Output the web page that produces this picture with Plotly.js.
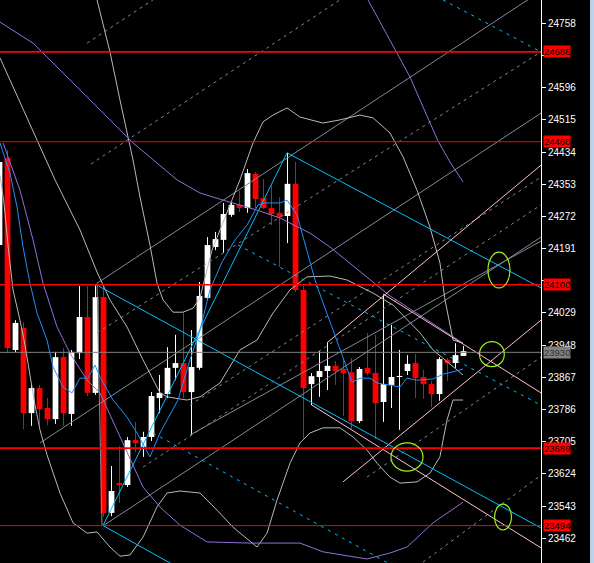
<!DOCTYPE html>
<html>
<head>
<meta charset="utf-8">
<script src="https://cdn.plot.ly/plotly-3.0.1.min.js"></script>
<style>
html,body{margin:0;padding:0;background:#000;}
#chart{width:594px;height:563px;}
</style>
</head>
<body>
<div id="chart"></div>
<script>
// ---- candles (bar index 0..58) ----
const barIdx = [0,1,2,3,4,5,6,7,8,9,10,11,12,13,14,15,16,17,18,19,20,21,22,23,24,25,26,27,28,29,30,31,32,33,34,35,36,37,38,39,40,41,42,43,44,45,46,47,48,49,50,51,52,53,54,55,56,57,58];
const opens  = [24200,24419,23936,23991,23777,23840,23790,23762,23918,23775,23928,24019,23828,24069,23526,23601,23596,23709,23692,23717,23815,23825,23891,23903,23830,23891,24067,24195,24213,24276,24301,24293,24379,24318,24293,24281,24273,24354,24087,23850,23868,23883,23896,23888,23880,23757,23891,23878,23805,23848,23868,23883,23903,23868,23850,23825,23911,23903,23921];
const highs  = [24430,24439,24011,24006,23850,23848,23815,23931,23941,23936,24097,24097,24099,24099,23644,23694,23717,23755,23730,23830,23873,23943,23974,24031,23986,24107,24220,24233,24306,24308,24336,24391,24384,24366,24349,24321,24432,24409,24097,23878,23933,23956,23908,23916,23916,23893,23979,23974,24074,23999,23936,23923,23926,23886,23858,23918,23916,23953,23946];
const lows   = [24190,23928,23931,23737,23745,23747,23747,23750,23745,23745,23913,23820,23823,23516,23518,23551,23591,23679,23667,23707,23777,23815,23860,23815,23722,23886,24062,24187,24180,24271,24283,24281,24293,24291,24250,24145,24205,24082,23714,23797,23818,23835,23848,23770,23737,23752,23873,23712,23755,23790,23735,23873,23815,23813,23792,23808,23858,23891,23921];
const closes = [24409,23941,24004,23777,23840,23787,23762,23918,23777,23931,24019,23828,24069,23526,23581,23596,23709,23702,23717,23820,23828,23891,23903,23830,23893,24072,24200,24215,24278,24301,24293,24381,24316,24293,24278,24271,24354,24087,23840,23870,23883,23896,23883,23878,23757,23888,23878,23802,23850,23868,23870,23901,23865,23850,23825,23913,23903,23923,23933];

// ---- indicator curves (x in bar units, y in price) ----
const maFastX = [0.06,1.31,2.19,2.94,3.81,4.69,5.94,6.69,7.94,9.06,10.06,11.06,11.94,12.56,14.19,15.94,17.19,18.81,20.06,21.69,22.31,23.81,25.06,26.31,27.81,29.44,30.94,32.31,33.19,35.06,35.94,37.19,38.19,39.44,40.31,44.06,45.06,46.31,47.19,48.81,50.06,50.94,52.19,54.19,55.44,56.69,57.94];
const maFastY = [24457,24381,24296,24195,24104,24029,23961,23893,23843,23828,23865,23865,23898,23868,23810,23767,23727,23667,23727,23785,23810,23911,23986,24087,24157,24213,24250,24301,24306,24306,24313,24276,24200,24112,24062,23855,23865,23865,23853,23848,23843,23865,23860,23863,23875,23881,23888];

const maSlowX = [0.06,4.19,8.44,12.56,16.69,22.19,25.06,27.94,32.19,35.06,38.81,41.31,46.31,48.81,57.94];
const maSlowY = [24761,24708,24623,24540,24457,24364,24331,24313,24288,24268,24230,24195,24112,24072,23953];

const envLowX = [0.44,2.56,4.19,5.44,7.19,8.81,10.94,12.56,17.94,20.06,22.56,25.94,31.31,37.56,40.44,45.94,48.81,50.94,54.19,57.94];
const envLowY = [24457,24338,24213,24104,23994,23928,23860,23828,23591,23541,23495,23453,23450,23450,23428,23410,23425,23440,23501,23553];

const envUpX = [46.06,48.81,51.31,52.56,54.81,56.31,57.94];
const envUpY = [24817,24716,24623,24565,24462,24409,24359];

const bbUpX = [12.19,13.19,13.81,15.06,16.06,16.69,17.56,18.81,19.69,20.44,21.69,22.94,24.19,25.06,26.56,28.44,30.06,31.69,32.94,34.19,35.94,37.56,40.44,42.56,45.06,46.69,48.81,50.44,52.19,53.81,55.06,55.69,56.69,57.94];
const bbUpY = [24817,24736,24686,24565,24472,24414,24321,24200,24104,24062,24031,24031,24041,24067,24187,24281,24364,24457,24510,24527,24545,24522,24507,24515,24527,24520,24482,24422,24338,24245,24155,24062,23961,23953];

const bbMidX = [0.06,4.19,6.94,10.06,12.19,13.81,15.94,17.94,20.06,20.94,23.44,25.06,27.56,30.06,32.19,34.19,36.31,38.44,41.31,43.44,46.69,49.19,52.56,54.19,55.94,57.94];
const bbMidY = [24671,24489,24364,24238,24132,24062,23994,23911,23828,23818,23810,23818,23853,23936,23961,24029,24087,24120,24122,24112,24079,24049,23979,23936,23906,23873];

const bbLowX = [0.06,0.56,1.06,1.69,2.56,3.19,3.81,4.44,5.06,5.94,7.56,9.19,10.94,12.19,13.81,15.06,16.31,17.94,19.69,20.94,22.56,25.06,27.19,29.19,32.19,33.44,34.69,36.31,37.56,38.81,40.44,42.56,44.19,45.94,47.19,48.81,50.06,52.19,53.81,55.06,55.44,55.94,56.69,57.94];
const bbLowY = [24376,24306,24200,24087,24011,23948,23873,23797,23735,23672,23576,23501,23475,23478,23440,23417,23420,23465,23541,23576,23581,23576,23533,23490,23440,23475,23558,23651,23702,23727,23740,23740,23717,23684,23651,23616,23601,23604,23626,23667,23709,23760,23810,23810];

// ---- drawn trend lines [x0, y0, x1, y1] ----
const cyanSolid = [[12.94,23494,35.94,24432],[12.94,23494,67.69,22879],[12.19,24099,67.69,23488],[35.94,24432,67.69,24092]];
const cyanDash  = [[55.44,24817,67.69,24686],[29.81,24200,67.69,23797],[19.19,23727,67.69,23186]];
const pinkLines = [[42.94,23604,67.69,24011],[40.94,23954,67.69,24401],[47.94,24077,67.69,23828],[39.06,23797,67.69,23438]];
const greySolid = [[12.19,24104,67.69,24839],[5.06,23702,67.69,24532],[13.06,23495,67.69,24220],[23.81,23722,67.69,24210],[12.19,24104,12.81,23495]];
const greyDash  = [[10.94,24708,19.19,24817],[11.44,24404,42.56,24817],[12.19,23979,67.69,24686],[23.81,23797,67.69,24371],[45.94,23616,67.69,23918],[52.94,23402,67.69,23621],[17.94,23641,67.69,24301]];

// ---- levels, ellipses, axis ----
const redLevels = [24686,24460,24100,23689,23494];
const redLevelWidths = [1.6,1,1.6,1.6,1];
const lastPrice = 23930;
const ellipses = [[60.0,23957,63.1,23894],[48.94,23702,52.94,23631],[61.88,23548,64.0,23483],[61.06,24182,63.81,24092]];
const tickVals = [24758,24677,24596,24515,24434,24353,24272,24191,24110,24029,23948,23867,23786,23705,23624,23543,23462];
const hiddenTicks = [24677,24110]; // covered by the level labels in the reference

// ---- build traces ----
const traces = [];
function wickTrace(sel, color){
  const x=[], y=[];
  barIdx.forEach(i=>{ if(sel(i)){ x.push(i,i,null); y.push(lows[i],highs[i],null);} });
  return {type:'scatter',mode:'lines',x,y,line:{color,width:1},hoverinfo:'skip',showlegend:false};
}
function bodyTrace(sel, color){
  const x=[], base=[], h=[];
  barIdx.forEach(i=>{ if(sel(i)){ x.push(i); base.push(Math.min(opens[i],closes[i])); h.push(Math.max(Math.abs(closes[i]-opens[i]),2.6)); } });
  return {type:'bar',x,base,y:h,width:0.72,marker:{color,line:{width:0}},hoverinfo:'skip',showlegend:false};
}
const isBull = i => closes[i] >= opens[i];
traces.push(bodyTrace(isBull,'#ffffff'));
traces.push(bodyTrace(i=>!isBull(i),'#ff0000'));
traces.push(wickTrace(isBull,'#ffffff'));
traces.push(wickTrace(i=>!isBull(i),'#ff0000'));

function curve(x,y,color,w){ return {type:'scatter',mode:'lines',x,y,line:{color,width:w||1},hoverinfo:'skip',showlegend:false}; }
function segs(list,color,dash){
  const x=[], y=[];
  list.forEach(s=>{ x.push(s[0],s[2],null); y.push(s[1],s[3],null); });
  return {type:'scatter',mode:'lines',x,y,line:{color,width:1,dash:dash||'solid'},hoverinfo:'skip',showlegend:false};
}
traces.push(segs(greyDash,'#7f8b98','3px,4px'));
traces.push(segs(greySolid,'#7f8b98'));
traces.push(curve(bbUpX,bbUpY,'#b9b9b9'));
traces.push(curve(bbMidX,bbMidY,'#b9b9b9'));
traces.push(curve(bbLowX,bbLowY,'#b9b9b9'));
traces.push(curve(maSlowX,maSlowY,'#9370db'));
traces.push(curve(envLowX,envLowY,'#9370db'));
traces.push(curve(envUpX,envUpY,'#9370db'));
traces.push(segs(pinkLines,'#ffc0cb'));
traces.push(segs(cyanDash,'#00bfff','3px,5px'));
traces.push(segs(cyanSolid,'#00bfff'));
traces.push(curve(maFastX,maFastY,'#1e90ff'));

const shapes = [];
redLevels.forEach((v,k)=>shapes.push({type:'line',xref:'paper',x0:0,x1:1,yref:'y',y0:v,y1:v,line:{color:'#ff0000',width:redLevelWidths[k]}}));
shapes.push({type:'line',xref:'paper',x0:0,x1:1,yref:'y',y0:lastPrice,y1:lastPrice,line:{color:'#808080',width:1}});
ellipses.forEach(e=>shapes.push({type:'circle',xref:'x',yref:'y',x0:e[0],y0:e[1],x1:e[2],y1:e[3],line:{color:'#9cf01c',width:1.2}}));
shapes.push({type:'rect',xref:'paper',yref:'paper',x0:1.0906,x1:1.1,y0:0,y1:1,fillcolor:'#bcd2ea',line:{width:0}});

const annotations = [];
redLevels.forEach(v=>annotations.push({xref:'paper',x:1,xanchor:'left',xshift:2,yref:'y',y:v,text:String(v),showarrow:false,bgcolor:'#ff0000',borderpad:0,font:{family:'Liberation Sans',size:9.5,color:'#000000'}}));
annotations.push({xref:'paper',x:1,xanchor:'left',xshift:2,yref:'y',y:lastPrice,text:String(lastPrice),showarrow:false,bgcolor:'#808080',borderpad:0,font:{family:'Liberation Sans',size:9.5,color:'#333333'}});

const layout = {
  width:594,height:563,
  margin:{l:0,r:53,t:0,b:0,pad:0},
  paper_bgcolor:'#000000',plot_bgcolor:'#000000',
  barmode:'overlay',
  showlegend:false,
  xaxis:{range:[0.0625,67.6875],visible:false,showgrid:false,zeroline:false,fixedrange:true},
  yaxis:{range:[23399.9,24816.6],side:'right',showgrid:false,zeroline:false,showline:true,linecolor:'#ffffff',linewidth:1,
         ticks:'outside',ticklen:4,tickcolor:'#ffffff',tickwidth:1,tickvals:tickVals,
         ticktext:tickVals.map(v=>hiddenTicks.includes(v)?'':String(v)),
         tickfont:{family:'Liberation Sans',size:10,color:'#ffffff'},fixedrange:true},
  shapes,annotations
};
Plotly.newPlot('chart',traces,layout,{staticPlot:true,displayModeBar:false});
</script>
</body>
</html>
